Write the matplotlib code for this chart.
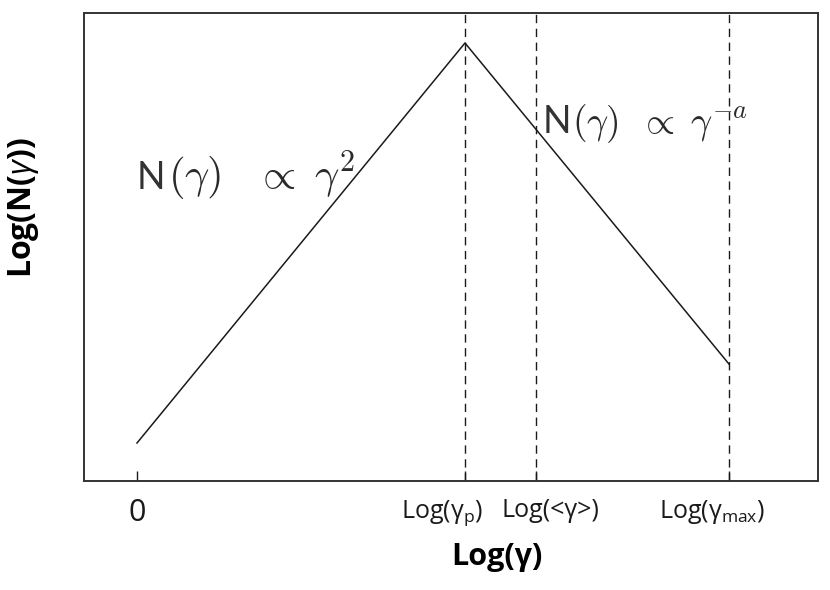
import numpy as np
import matplotlib
matplotlib.use("Agg")
import matplotlib.pyplot as plt
from matplotlib.transforms import ScaledTranslation

# log-scale positions (arbitrary units)
x_pts = [0.0, 3.28, 5.92]          # start, gamma_p, gamma_max
y_pts = [0.38, 4.38, 1.17]         # Log(N) at those points
vlines = [3.28, 3.99, 5.92]        # gamma_p, <gamma>, gamma_max
tick_pos = [0.0, 3.28, 3.99, 5.92]
tick_lbl = ["0", r"Log(γ$_\mathrm{p}$)", "Log(<γ>)", r"Log(γ$_\mathrm{max}$)"]
# horizontal nudge of each tick label (pixels) so they don't collide
tick_dx = [0, -23, 14, -17]

plt.rcParams['font.family'] = ['Open Sans', 'DejaVu Sans']
plt.rcParams['mathtext.fontset'] = 'custom'
plt.rcParams['mathtext.rm'] = 'Open Sans'
plt.rcParams['mathtext.it'] = 'Open Sans:italic'

fig = plt.figure(figsize=(8.3, 5.9), dpi=100)
ax = fig.add_axes([0.1012, 0.1847, 0.8843, 0.7933])

ax.plot(x_pts, y_pts, color='#1a1a1a', lw=1.1)
for xv in vlines:
    ax.axvline(xv, color='#1a1a1a', lw=1.0, ls=(0, (6, 4)))

ax.set_xlim(-0.53, 6.81)
ax.set_ylim(0, 4.68)
ax.set_yticks([])
ax.set_xticks(tick_pos)
ax.set_xticklabels(tick_lbl)
ax.tick_params(axis='x', direction='in', length=7, width=1.0, pad=12,
               labelsize=18, colors='#1a1a1a')
labs = ax.get_xticklabels()
labs[0].set_fontsize(22)
for lab, dx in zip(labs, tick_dx):
    lab.set_transform(lab.get_transform() + ScaledTranslation(dx / 100, 0, fig.dpi_scale_trans))
for s in ax.spines.values():
    s.set_linewidth(1.4)
    s.set_color('#333333')

ax.set_xlabel("Log(γ)", fontsize=22, fontweight='bold')
ax.xaxis.set_label_coords(0.563, -0.13)
ax.set_ylabel(r"Log(N($\gamma$))", fontsize=23, fontweight='bold')
ax.yaxis.set_label_coords(-0.058, 0.585)


def law(x, y, rest, size, dx):
    # "N" in a thin sans, the rest in a larger math font
    ax.text(x, y, "N", fontsize=27, family=['Lato', 'DejaVu Sans'],
            fontweight='normal', color='#333333', va='baseline')
    tr = ax.transData + ScaledTranslation(dx / 100, 0, fig.dpi_scale_trans)
    ax.text(x, y, rest, fontsize=size, math_fontfamily='cm', color='#2a2a2a',
            va='baseline', transform=tr)


law(0.0, 2.92, r"$(\gamma)\;\;\;\propto\;\gamma^2$", 31, 31)
law(4.06, 3.48, r"$(\gamma)\;\;\propto\;\gamma^{-a}$", 27, 29)

fig.savefig("out.png", dpi=100)
